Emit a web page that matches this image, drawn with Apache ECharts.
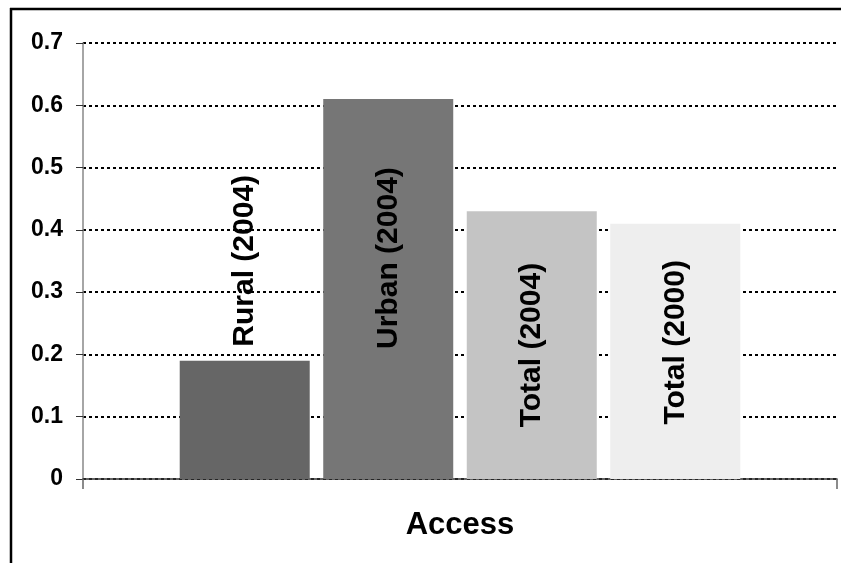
<!DOCTYPE html>
<html>
<head>
<meta charset="utf-8">
<script src="https://cdn.jsdelivr.net/npm/echarts@6/dist/echarts.min.js"></script>
<style>
  html, body { margin: 0; padding: 0; background: #fff; }
  #chart { width: 841px; height: 563px; }
</style>
</head>
<body>
<div id="chart"></div>
<script>
// data
const categories = ['Access'];
const seriesNames = ['Rural (2004)', 'Urban (2004)', 'Total (2004)', 'Total (2000)'];
const seriesValues = [[0.19], [0.61], [0.43], [0.41]];
const yTicks = [0, 0.1, 0.2, 0.3, 0.4, 0.5, 0.6, 0.7];

const colors = ['#666666', '#767676', '#c4c4c4', '#eeeeee'];
const font = '"Liberation Sans", Arial, sans-serif';

// label shift per bar, in the rotated text's own frame (x runs up the screen)
const labelOffsets = [[0, 0], [31, 0], [0, 0], [9, 0]];

const chart = echarts.init(document.getElementById('chart'));

const series = seriesNames.map((name, i) => ({
  name,
  type: 'bar',
  data: seriesValues[i],
  barWidth: 130,
  barGap: '10.4%',
  itemStyle: { color: colors[i] },
  label: {
    show: true,
    formatter: name,
    rotate: 90,
    position: i === 0 ? 'top' : 'inside',
    distance: 14,
    align: i === 0 ? 'left' : 'center',
    verticalAlign: 'middle',
    offset: labelOffsets[i],
    color: '#000',
    fontFamily: font,
    fontWeight: 'bold',
    fontSize: 30
  }
}));

const option = {
  backgroundColor: '#fff',
  animation: false,
  grid: { left: 83, right: 4, top: 43, bottom: 84, containLabel: false },
  xAxis: {
    type: 'category',
    data: categories,
    name: 'Access',
    nameLocation: 'middle',
    nameGap: 31,
    nameTextStyle: { color: '#000', fontFamily: font, fontWeight: 'bold', fontSize: 31, verticalAlign: 'top' },
    axisLine: { lineStyle: { color: '#333', width: 1.5 } },
    axisTick: { show: true, alignWithLabel: false, length: 10, lineStyle: { color: '#666', width: 1.5 } },
    axisLabel: { show: false }
  },
  yAxis: {
    type: 'value',
    min: yTicks[0],
    max: yTicks[yTicks.length - 1],
    interval: 0.1,
    axisLine: { show: true, lineStyle: { color: '#888', width: 1.5 } },
    axisTick: { show: true, length: 7, lineStyle: { color: '#333', width: 1 } },
    axisLabel: {
      margin: 20,
      color: '#000',
      fontFamily: font,
      fontWeight: 'bold',
      fontSize: 23,
      formatter: v => String(+v.toFixed(1))
    },
    splitLine: { show: true, lineStyle: { color: '#000', width: 2, type: [3, 3] } }
  },
  series,
  // outer frame: only the left and top edges fall inside the picture
  graphic: [
    { type: 'line', shape: { x1: 11, y1: 8, x2: 11, y2: 570 }, style: { stroke: '#000', lineWidth: 2.5 } },
    { type: 'line', shape: { x1: 10, y1: 9, x2: 850, y2: 9 }, style: { stroke: '#000', lineWidth: 2.5 } }
  ]
};

chart.setOption(option);
</script>
</body>
</html>
